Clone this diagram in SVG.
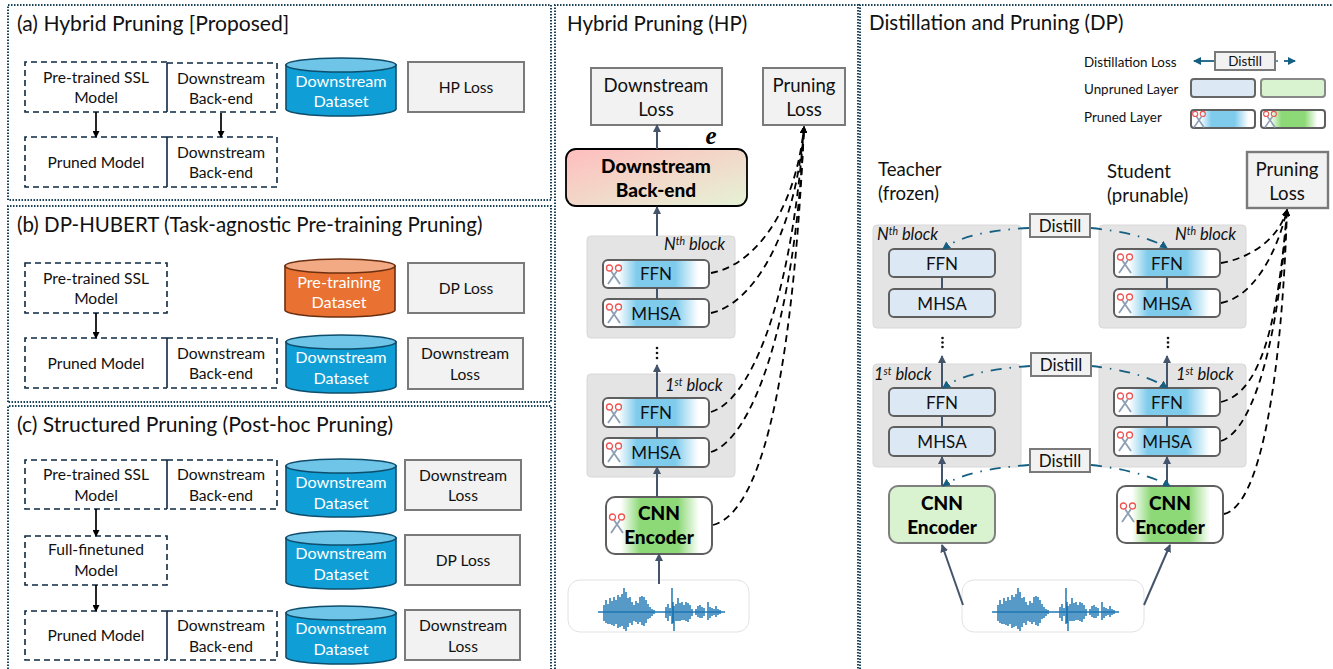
<svg xmlns="http://www.w3.org/2000/svg" width="1333" height="669" viewBox="0 0 1333 669">
<style>
text{font-family:"Lato","Noto Sans","Liberation Sans",sans-serif;fill:#111}
.t{font-size:20.5px}
.t2{font-size:21.1px}
.s{font-size:15.6px;text-anchor:middle}
.w{font-size:16.2px;text-anchor:middle;fill:#fff}
.m{font-size:18.6px;text-anchor:middle}
.l{font-size:17px;text-anchor:middle}
.b{font-size:19px;text-anchor:middle;font-weight:900;fill:#000}
.leg{font-size:13.4px}
.i{font-size:16.5px;font-style:italic}
.panel{fill:none;stroke:#1a4258;stroke-width:2;stroke-dasharray:1.5 1.5}
.dash{fill:none;stroke:#0e2841;stroke-width:1.6;stroke-dasharray:6 4}
.solid{fill:none;stroke:#0e2841;stroke-width:1.6}
.loss{fill:#f2f2f2;stroke:#7a7a7a;stroke-width:2}
.blk{fill:#e4e4e4;stroke:#d8d8d8;stroke-width:1}
.lay{stroke:#5f5f5f;stroke-width:2}
.card{fill:#fff;stroke:#e2e2e2;stroke-width:1}
.k{fill:none;stroke:#000;stroke-width:1.7;marker-end:url(#ak)}
.n{fill:none;stroke:#44546a;stroke-width:2;marker-end:url(#an)}
.nl{fill:none;stroke:#44546a;stroke-width:2}
.pd{fill:none;stroke:#000;stroke-width:1.8;stroke-dasharray:7 5;marker-end:url(#ak)}
.dd{fill:none;stroke:#156082;stroke-width:1.8;stroke-dasharray:11 8 1.5 8;marker-end:url(#ad)}
.dl{fill:none;stroke:#156082;stroke-width:1.8;marker-end:url(#ad)}
.dot{fill:#111}
</style>
<defs>
<marker id="ak" markerWidth="7" markerHeight="7" refX="6" refY="3.5" orient="auto" markerUnits="userSpaceOnUse"><path d="M0,0L7,3.5L0,7z" fill="#000"/></marker>
<marker id="an" markerWidth="8" markerHeight="8" refX="7" refY="4" orient="auto" markerUnits="userSpaceOnUse"><path d="M0,0L8,4L0,8z" fill="#44546a"/></marker>
<marker id="ad" markerWidth="8" markerHeight="8" refX="7" refY="4" orient="auto" markerUnits="userSpaceOnUse"><path d="M0,0L8,4L0,8z" fill="#156082"/></marker>
<linearGradient id="gb"><stop offset=".14" stop-color="#fff"/><stop offset=".32" stop-color="#7ecbec"/><stop offset=".68" stop-color="#7ecbec"/><stop offset=".9" stop-color="#fff"/></linearGradient>
<linearGradient id="gg"><stop offset=".14" stop-color="#fff"/><stop offset=".32" stop-color="#8dd977"/><stop offset=".68" stop-color="#8dd977"/><stop offset=".88" stop-color="#fff"/></linearGradient>
<linearGradient id="gr" x1="0" y1="0" x2="1" y2="1"><stop offset="0" stop-color="#ffbdbd"/><stop offset="1" stop-color="#e5f3d5"/></linearGradient>
<g id="cb"><path d="M0,7V51A55,7 0 0 0 110,51V7z" fill="#0f9ed5" stroke="#0e4d6b" stroke-width="1.6"/><ellipse cx="55" cy="7" rx="55" ry="7" fill="#6fc5e8" stroke="#0e4d6b" stroke-width="1.6"/></g>
<g id="co"><path d="M0,7V51A55,7 0 0 0 110,51V7z" fill="#e97132" stroke="#6b2f10" stroke-width="1.6"/><ellipse cx="55" cy="7" rx="55" ry="7" fill="#f2aa84" stroke="#6b2f10" stroke-width="1.6"/></g>
<g id="sc" fill="none"><path d="M-3,-3L6,10M3,-3L-6,10" stroke="#8c9fb3" stroke-width="1.8"/><circle cx="-4.5" cy="-6" r="3" stroke="#ef5350" stroke-width="1.3"/><circle cx="4.5" cy="-6" r="3" stroke="#ef5350" stroke-width="1.3"/></g>
<path id="wv" fill="none" stroke="#1f77b4" stroke-width="1.5" d="M0,0H127M6,-7V9M8,-12V11M10,-8V12M12,-14V12M14,-11V13M16,-15V14M18,-12V12M20,-17V16M22,-15V15M24,-18V14M26,-24V17M28,-20V19M30,-14V15M32,-15V11M34,-10V13M36,-7V9M38,-11V10M40,-9V12M42,-15V10M44,-16V13M46,-15V14M48,-12V11M50,-8V7M52,-5V6M54,-3V4M56,-2V2M68,-5V6M70,-8V9M72,-4V4M74,-24V12M75,-10V11M76,-6V19M78,-8V9M80,-14V9M82,-9V9M84,-10V8M86,-7V8M88,-10V9M90,-9V10M92,-7V7M94,-3V4M98,-3V3M100,-6V5M102,-7V6M104,-5V6M106,-4V4M110,-10V8M112,-5V6M114,-4V4M116,-3V3M118,-6V5M120,-3V3M122,-2V2"/>
</defs>
<rect width="1333" height="669" fill="#fff"/>

<g id="panels">
<path class="panel" d="M8,200V5H551V200z"/>
<path class="panel" d="M8,402V206H551V402z"/>
<path class="panel" d="M8,669V406H551V669"/>
<path class="panel" d="M555,669V5H858V669"/>
<path class="panel" d="M860,669V5H1333"/>
</g>

<g id="titles">
<text class="t2" x="17" y="31">(a) Hybrid Pruning [Proposed]</text>
<text class="t" x="17" y="232">(b) DP-HUBERT (Task-agnostic Pre-training Pruning)</text>
<text class="t2" x="17" y="432">(c) Structured Pruning (Post-hoc Pruning)</text>
<text class="t" x="567" y="31">Hybrid Pruning (HP)</text>
<text class="t" x="869" y="30">Distillation and Pruning (DP)</text>
</g>

<g id="a-pretrained"><path class="dash" d="M167,62H25V112H167"/><text class="s" x="96" y="83">Pre-trained SSL</text><text class="s" x="96" y="103">Model</text></g>
<g id="a-backend"><path class="solid" d="M167,63V112"/><path class="dash" d="M167,63H277V112H167"/><text class="s" x="221" y="84">Downstream</text><text class="s" x="221" y="104">Back-end</text></g>
<g id="a-pruned"><path class="dash" d="M167,137H25V187H167"/><text class="s" x="96" y="168">Pruned Model</text></g>
<g id="a-backend2"><path class="solid" d="M167,137V187"/><path class="dash" d="M167,137H277V187H167"/><text class="s" x="221" y="158">Downstream</text><text class="s" x="221" y="178">Back-end</text></g>
<g id="a-data"><use href="#cb" x="286" y="58"/><text class="w" x="341" y="87">Downstream</text><text class="w" x="341" y="107">Dataset</text></g>
<g id="a-loss"><rect class="loss" x="408" y="62" width="116" height="50"/><text class="s" x="466" y="93">HP Loss</text></g>

<g id="b-pretrained"><path class="dash" d="M25,263H167V313H25z"/><text class="s" x="96" y="284">Pre-trained SSL</text><text class="s" x="96" y="304">Model</text></g>
<g id="b-data1"><use href="#co" x="285" y="259"/><text class="w" x="339" y="288">Pre-training</text><text class="w" x="339" y="308">Dataset</text></g>
<g id="b-loss1"><rect class="loss" x="408" y="263" width="116" height="50"/><text class="s" x="466" y="294">DP Loss</text></g>
<g id="b-pruned"><path class="dash" d="M167,338H25V388H167"/><text class="s" x="96" y="369">Pruned Model</text></g>
<g id="b-backend"><path class="solid" d="M167,338V388"/><path class="dash" d="M167,338H277V388H167"/><text class="s" x="221" y="359">Downstream</text><text class="s" x="221" y="379">Back-end</text></g>
<g id="b-data2"><use href="#cb" x="286" y="335"/><text class="w" x="341" y="363">Downstream</text><text class="w" x="341" y="384">Dataset</text></g>
<g id="b-loss2"><rect class="loss" x="408" y="338" width="115" height="51"/><text class="s" x="465" y="359">Downstream</text><text class="s" x="465" y="380">Loss</text></g>

<g id="c-pretrained"><path class="dash" d="M167,460H25V509H167"/><text class="s" x="96" y="480">Pre-trained SSL</text><text class="s" x="96" y="501">Model</text></g>
<g id="c-backend"><path class="solid" d="M167,460V509"/><path class="dash" d="M167,460H277V509H167"/><text class="s" x="221" y="480">Downstream</text><text class="s" x="221" y="501">Back-end</text></g>
<g id="c-data1"><use href="#cb" x="286" y="459"/><text class="w" x="341" y="488">Downstream</text><text class="w" x="341" y="509">Dataset</text></g>
<g id="c-loss1"><rect class="loss" x="405" y="460" width="116" height="50"/><text class="s" x="463" y="481">Downstream</text><text class="s" x="463" y="501">Loss</text></g>
<g id="c-finetuned"><path class="dash" d="M25,536H167V585H25z"/><text class="s" x="96" y="555">Full-finetuned</text><text class="s" x="96" y="576">Model</text></g>
<g id="c-data2"><use href="#cb" x="286" y="531"/><text class="w" x="341" y="559">Downstream</text><text class="w" x="341" y="580">Dataset</text></g>
<g id="c-loss2"><rect class="loss" x="405" y="535" width="115" height="50"/><text class="s" x="463" y="566">DP Loss</text></g>
<g id="c-pruned"><path class="dash" d="M167,611H25V660H167"/><text class="s" x="96" y="641">Pruned Model</text></g>
<g id="c-backend2"><path class="solid" d="M167,611V660"/><path class="dash" d="M167,611H277V660H167"/><text class="s" x="221" y="631">Downstream</text><text class="s" x="221" y="652">Back-end</text></g>
<g id="c-data3"><use href="#cb" x="286" y="606"/><text class="w" x="341" y="634">Downstream</text><text class="w" x="341" y="655">Dataset</text></g>
<g id="c-loss3"><rect class="loss" x="405" y="610" width="115" height="50"/><text class="s" x="463" y="631">Downstream</text><text class="s" x="463" y="652">Loss</text></g>

<g id="hp-dloss"><rect class="loss" x="591" y="68" width="131" height="57"/><text class="m" x="656" y="92">Downstream</text><text class="m" x="656" y="116">Loss</text></g>
<g id="hp-ploss"><rect class="loss" x="763" y="68" width="82" height="57"/><text class="m" x="804" y="92">Pruning</text><text class="m" x="804" y="116">Loss</text></g>
<g id="hp-e"><text x="711" y="144" font-size="25" font-weight="700" font-style="italic" style="font-family:'Liberation Serif',serif;text-anchor:middle;fill:#000">e</text></g>
<g id="hp-backend"><rect x="566" y="149" width="181" height="57" rx="10" fill="url(#gr)" stroke="#000" stroke-width="1.8"/><text class="b" x="656" y="173">Downstream</text><text class="b" x="656" y="197">Back-end</text></g>
<g id="hp-nblock"><rect class="blk" x="587" y="236" width="148" height="102" rx="4"/><text class="i" x="664" y="250">N<tspan font-size="10.5" dy="-5">th</tspan><tspan dy="5"> block</tspan></text></g>
<g id="hp-nffn"><rect class="lay" x="603" y="260" width="106" height="28" rx="5" fill="url(#gb)"/><use href="#sc" x="614" y="274"/><text class="l" x="656" y="280">FFN</text></g>
<g id="hp-nmhsa"><rect class="lay" x="603" y="299" width="106" height="28" rx="5" fill="url(#gb)"/><use href="#sc" x="614" y="313"/><text class="l" x="656" y="320">MHSA</text></g>
<g id="hp-dots"><circle class="dot" cx="657" cy="348" r="1.3"/><circle class="dot" cx="657" cy="353" r="1.3"/><circle class="dot" cx="657" cy="358" r="1.3"/></g>
<g id="hp-1block"><rect class="blk" x="587" y="374" width="148" height="103" rx="4"/><text class="i" x="665" y="391">1<tspan font-size="10.5" dy="-5">st</tspan><tspan dy="5"> block</tspan></text></g>
<g id="hp-1ffn"><rect class="lay" x="603" y="398" width="106" height="29" rx="5" fill="url(#gb)"/><use href="#sc" x="614" y="413"/><text class="l" x="656" y="419">FFN</text></g>
<g id="hp-1mhsa"><rect class="lay" x="603" y="438" width="106" height="29" rx="5" fill="url(#gb)"/><use href="#sc" x="614" y="452"/><text class="l" x="656" y="459">MHSA</text></g>
<g id="hp-cnn"><rect class="lay" x="606" y="497" width="106" height="57" rx="9" fill="url(#gg)"/><use href="#sc" x="617" y="523"/><text class="b" x="659" y="520">CNN</text><text class="b" x="659" y="544">Encoder</text></g>
<g id="hp-wave"><rect class="card" x="568" y="580" width="181" height="52" rx="12"/><use href="#wv" x="598" y="612"/></g>

<g id="legend">
<text class="leg" x="1084" y="67">Distillation Loss</text>
<rect class="loss" x="1215" y="52" width="60" height="18"/><text x="1245" y="66" style="font-size:13.4px;text-anchor:middle">Distill</text>
<text class="leg" x="1084" y="94">Unpruned Layer</text>
<rect class="lay" x="1191" y="79" width="64" height="18" rx="3" fill="#dce9f5" style="stroke:#666"/>
<rect class="lay" x="1261" y="79" width="64" height="18" rx="3" fill="#d9f2d0" style="stroke:#888"/>
<text class="leg" x="1084" y="122">Pruned Layer</text>
<rect class="lay" x="1191" y="110" width="64" height="18" rx="3" fill="url(#gb)"/><use href="#sc" transform="translate(1199,119) scale(.85)"/>
<rect class="lay" x="1261" y="110" width="64" height="18" rx="3" fill="url(#gg)"/><use href="#sc" transform="translate(1270,119) scale(.85)"/>
</g>
<g id="dp-teacher-label"><text class="m" x="878" y="176" style="text-anchor:start">Teacher</text><text class="m" x="878" y="200" style="text-anchor:start">(frozen)</text></g>
<g id="dp-student-label"><text class="m" x="1107" y="178" style="text-anchor:start">Student</text><text class="m" x="1107" y="202" style="text-anchor:start">(prunable)</text></g>
<g id="dp-ploss"><rect class="loss" x="1247" y="152" width="81" height="56" style="stroke-width:2.4"/><text class="m" x="1287" y="176">Pruning</text><text class="m" x="1287" y="200">Loss</text></g>

<g id="dp-tn"><rect class="blk" x="873" y="225" width="148" height="103" rx="4"/><text class="i" x="877" y="240">N<tspan font-size="10.5" dy="-5">th</tspan><tspan dy="5"> block</tspan></text></g>
<g id="dp-tnffn"><rect class="lay" x="889" y="249" width="106" height="28" rx="5" fill="#dce9f5"/><text class="l" x="942" y="270">FFN</text></g>
<g id="dp-tnmhsa"><rect class="lay" x="889" y="289" width="106" height="28" rx="5" fill="#dce9f5"/><text class="l" x="942" y="310">MHSA</text></g>
<g id="dp-sn"><rect class="blk" x="1099" y="225" width="147" height="103" rx="4"/><text class="i" x="1175" y="240">N<tspan font-size="10.5" dy="-5">th</tspan><tspan dy="5"> block</tspan></text></g>
<g id="dp-snffn"><rect class="lay" x="1114" y="249" width="106" height="28" rx="5" fill="url(#gb)"/><use href="#sc" x="1125" y="263"/><text class="l" x="1167" y="270">FFN</text></g>
<g id="dp-snmhsa"><rect class="lay" x="1114" y="289" width="106" height="28" rx="5" fill="url(#gb)"/><use href="#sc" x="1125" y="303"/><text class="l" x="1167" y="310">MHSA</text></g>
<g id="dp-tdots"><circle class="dot" cx="942.5" cy="338" r="1.3"/><circle class="dot" cx="942.5" cy="342.5" r="1.3"/><circle class="dot" cx="942.5" cy="347" r="1.3"/></g>
<g id="dp-sdots"><circle class="dot" cx="1168" cy="338" r="1.3"/><circle class="dot" cx="1168" cy="342.5" r="1.3"/><circle class="dot" cx="1168" cy="347" r="1.3"/></g>
<g id="dp-t1"><rect class="blk" x="873" y="364" width="148" height="103" rx="4"/><text class="i" x="874" y="380">1<tspan font-size="10.5" dy="-5">st</tspan><tspan dy="5"> block</tspan></text></g>
<g id="dp-t1ffn"><rect class="lay" x="889" y="388" width="106" height="28" rx="5" fill="#dce9f5"/><text class="l" x="942" y="409">FFN</text></g>
<g id="dp-t1mhsa"><rect class="lay" x="889" y="427" width="106" height="29" rx="5" fill="#dce9f5"/><text class="l" x="942" y="448">MHSA</text></g>
<g id="dp-s1"><rect class="blk" x="1099" y="364" width="147" height="103" rx="4"/><text class="i" x="1176" y="380">1<tspan font-size="10.5" dy="-5">st</tspan><tspan dy="5"> block</tspan></text></g>
<g id="dp-s1ffn"><rect class="lay" x="1114" y="388" width="106" height="28" rx="5" fill="url(#gb)"/><use href="#sc" x="1125" y="402"/><text class="l" x="1167" y="409">FFN</text></g>
<g id="dp-s1mhsa"><rect class="lay" x="1114" y="427" width="106" height="29" rx="5" fill="url(#gb)"/><use href="#sc" x="1125" y="441"/><text class="l" x="1167" y="448">MHSA</text></g>
<g id="dp-tcnn"><rect x="889" y="486" width="106" height="57" rx="9" fill="#d9f2d0" stroke="#7f7f7f" stroke-width="2"/><text class="b" x="942" y="510">CNN</text><text class="b" x="942" y="534">Encoder</text></g>
<g id="dp-scnn"><rect class="lay" x="1117" y="486" width="106" height="57" rx="9" fill="url(#gg)"/><use href="#sc" x="1128" y="512"/><text class="b" x="1170" y="510">CNN</text><text class="b" x="1170" y="534">Encoder</text></g>
<g id="dp-wave"><rect class="card" x="962" y="580" width="182" height="52" rx="12"/><use href="#wv" x="992" y="612"/></g>

<g id="connectors">
<path class="k" d="M96,112V137"/><path class="k" d="M221,113V137"/>
<path class="k" d="M96,313V338"/>
<path class="k" d="M96,509V536"/><path class="k" d="M96,585V611"/>
<path class="n" d="M657,149V125"/>
<path class="n" d="M657,236V207"/>
<path class="nl" d="M657,288V299"/>
<path class="n" d="M657,398V365"/>
<path class="nl" d="M657,427V438"/>
<path class="n" d="M657,497V467"/>
<path class="n" d="M659,584V554"/>
<path class="pd" d="M711,273C752,266 795,215 804,127"/>
<path class="pd" d="M711,313C750,305 795,240 804,127"/>
<path class="pd" d="M711,412C745,402 790,320 804,127"/>
<path class="pd" d="M711,452C750,440 795,330 804,127"/>
<path class="pd" d="M713,525C770,510 795,330 804,127"/>
<path class="n" d="M942,388V356"/><path class="nl" d="M942,277V289"/><path class="nl" d="M942,416V427"/><path class="n" d="M942,486V457"/>
<path class="n" d="M1167,388V356"/><path class="nl" d="M1167,277V289"/><path class="nl" d="M1167,416V427"/><path class="n" d="M1167,486V457"/>
<path class="n" d="M963,605L942,545"/><path class="n" d="M1144,605L1170,545"/>
<path class="pd" d="M1221,263C1250,258 1278,240 1287,210"/>
<path class="pd" d="M1221,303C1250,298 1275,260 1287,210"/>
<path class="pd" d="M1221,402C1262,392 1278,320 1287,210"/>
<path class="pd" d="M1221,441C1255,430 1280,330 1287,210"/>
<path class="pd" d="M1224,514C1262,505 1282,370 1287,210"/>
<path class="dd" d="M1029,228C990,230 960,236 943,249"/>
<path class="dd" d="M1091,228C1120,231 1150,237 1167,248"/>
<path class="dd" d="M1030,366C990,369 960,375 943,388"/>
<path class="dd" d="M1091,366C1120,369 1150,376 1167,388"/>
<path class="dd" d="M1029,465C990,468 960,474 943,486"/>
<path class="dd" d="M1091,465C1120,468 1150,475 1170,486"/>
<path class="dl" d="M1214,61H1194"/>
<path class="dl" d="M1284,61H1295"/>
<circle cx="1277" cy="61" r=".9" fill="#156082"/>
</g>
<g id="dp-d1"><rect class="loss" x="1030" y="214" width="60" height="23"/><text class="l" x="1060" y="232">Distill</text></g>
<g id="dp-d2"><rect class="loss" x="1031" y="353" width="60" height="23"/><text class="l" x="1061" y="371">Distill</text></g>
<g id="dp-d3"><rect class="loss" x="1030" y="449" width="60" height="23"/><text class="l" x="1060" y="467">Distill</text></g>
</svg>
